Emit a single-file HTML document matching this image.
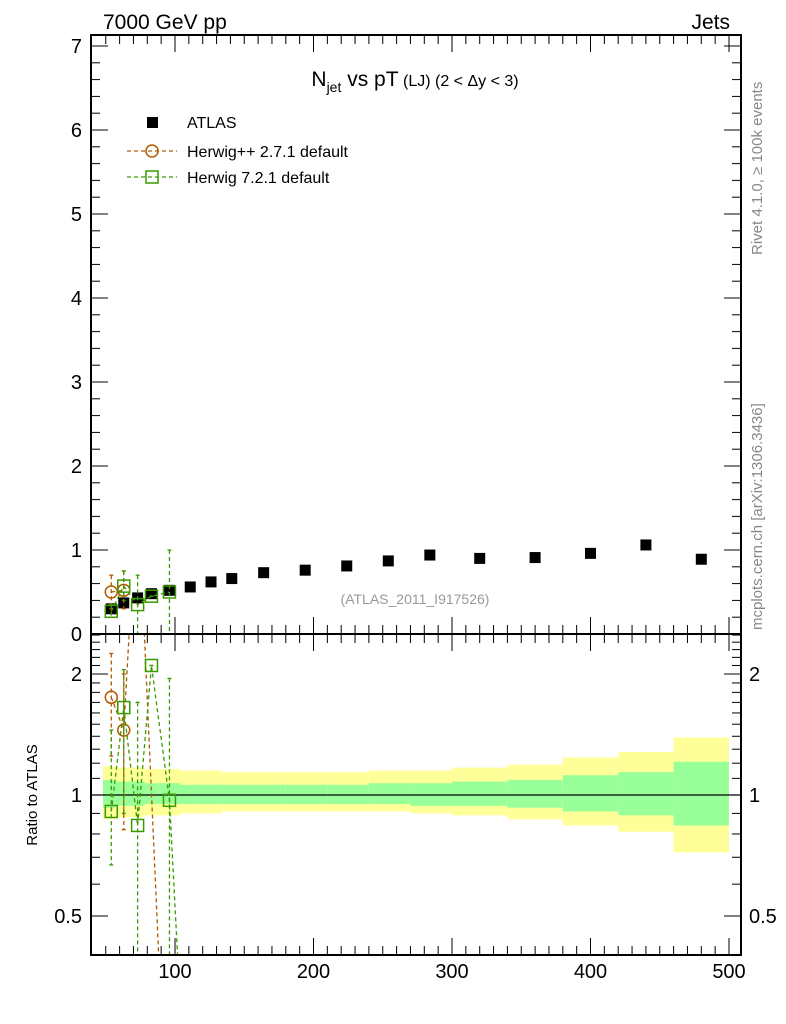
<!DOCTYPE html>
<html><head><meta charset="utf-8"><style>
html,body{margin:0;background:#fff;overflow:hidden;width:786px;height:1024px;}
svg{display:block;}
svg text{font-family:"Liberation Sans",sans-serif;}
</style></head><body>
<svg id="chart" width="786" height="1024" xmlns="http://www.w3.org/2000/svg">
<defs>
<clipPath id="cm"><rect x="91" y="35" width="650" height="599"/></clipPath>
<clipPath id="cr"><rect x="91" y="634" width="650" height="321"/></clipPath>
</defs>
<g id="bands" clip-path="url(#cr)"></g>
<g id="marks"></g>
<g id="axes"></g>
<text x="103" y="29" font-size="21">7000 GeV pp</text>
<text x="730" y="29" font-size="21" text-anchor="end">Jets</text>
<text x="415" y="86" font-size="21" text-anchor="middle">N<tspan font-size="14" dy="6">jet</tspan><tspan dy="-6"> vs pT</tspan><tspan font-size="16"> (LJ) (2 &lt; Δy &lt; 3)</tspan></text>
<text x="415" y="604" font-size="14" fill="#999" text-anchor="middle">(ATLAS_2011_I917526)</text>
<text transform="translate(762,255) rotate(-90)" font-size="15" fill="#888">Rivet 4.1.0, ≥ 100k events</text>
<text transform="translate(762,630) rotate(-90)" font-size="15" fill="#888">mcplots.cern.ch [arXiv:1306.3436]</text>
<text transform="translate(37,795) rotate(-90)" font-size="15" text-anchor="middle">Ratio to ATLAS</text>
<g>
<rect x="147" y="117" width="11" height="11" fill="#000"/>
<text x="187" y="128" font-size="16">ATLAS</text>
<line x1="127" y1="151" x2="177" y2="151" stroke="#b35900" stroke-dasharray="4,3" stroke-width="1.3"/>
<circle cx="152" cy="151" r="6" fill="none" stroke="#b35900" stroke-width="1.5"/>
<text x="187" y="157" font-size="16">Herwig++ 2.7.1 default</text>
<line x1="127" y1="177" x2="177" y2="177" stroke="#3a9a00" stroke-dasharray="4,3" stroke-width="1.3"/>
<rect x="146" y="171" width="12" height="12" fill="none" stroke="#3a9a00" stroke-width="1.5"/>
<text x="187" y="183" font-size="16">Herwig 7.2.1 default</text>
</g>
</svg>
<script>
const xs=[54,63,73,83,96,111,126,141,164,194,224,254,284,320,360,400,440,480];
const atlas=[0.30,0.37,0.43,0.48,0.52,0.56,0.62,0.66,0.73,0.76,0.81,0.87,0.94,0.90,0.91,0.96,1.06,0.89];
const binLo=[48,57,68,78,88,104,118,134,148,180,210,240,270,300,340,380,420,460];
const binHi=[57,68,78,88,104,118,134,148,180,210,240,270,300,340,380,420,460,500];
const yelUp=[1.18,1.17,1.17,1.16,1.16,1.15,1.15,1.14,1.14,1.14,1.14,1.15,1.15,1.17,1.19,1.24,1.28,1.39];
const yelDn=[0.87,0.88,0.88,0.89,0.89,0.90,0.90,0.91,0.91,0.91,0.91,0.91,0.90,0.89,0.87,0.84,0.81,0.72];
const grnUp=[1.09,1.08,1.08,1.07,1.07,1.06,1.06,1.06,1.06,1.06,1.06,1.07,1.07,1.08,1.09,1.12,1.14,1.21];
const grnDn=[0.93,0.94,0.94,0.95,0.95,0.95,0.95,0.95,0.95,0.95,0.95,0.95,0.94,0.94,0.93,0.91,0.89,0.84];
// ratio panel
const hppX=[54,63,73,96];
const hppR=[1.75,1.45,6.0,0.1];
const hppUp=[2.25,2.0,6.0,0.1];
const hppDn=[1.25,0.82,6.0,0.1];
const h7X=[54,63,73,83,96,111];
const h7R=[0.91,1.65,0.84,2.1,0.97,0.1];
const h7Up=[1.45,2.05,1.7,2.1,1.95,0.1];
const h7Dn=[0.67,0.9,0.1,2.1,0.1,0.1];
// main panel
const hppMX=[54,63];
const hppM=[0.50,0.52];
const hppMUp=[0.70,0.75];
const hppMDn=[0.30,0.30];
const h7MX=[54,63,73,83,96];
const h7M=[0.27,0.57,0.35,0.45,0.50];
const h7MUp=[0.35,0.75,0.70,0.45,1.00];
const h7MDn=[0.20,0.40,0.00,0.45,0.00];
const mainTicks=[0,1,2,3,4,5,6,7];
const xTicks=[100,200,300,400,500];
const rTicks=[0.5,1,2];

const NS="http://www.w3.org/2000/svg";
const X=v=>36.5+1.385*v;
const Y=v=>634-84*v;
const R=v=>795-121*Math.log2(v);
function mk(t,a,p){const e=document.createElementNS(NS,t);for(const k in a)e.setAttribute(k,a[k]);(p||document.getElementById('marks')).appendChild(e);return e;}
const bands=document.getElementById('bands'),marks=document.getElementById('marks'),axes=document.getElementById('axes');
const gm=mk('g',{'clip-path':'url(#cm)'},marks), gr=mk('g',{'clip-path':'url(#cr)'},marks);
for(let i=0;i<binLo.length;i++){
 const a=mk('rect',{x:X(binLo[i]),y:R(yelUp[i]),width:X(binHi[i])-X(binLo[i]),height:R(yelDn[i])-R(yelUp[i]),fill:'#ffff99'},bands);
 
 
 const b=mk('rect',{x:X(binLo[i]),y:R(grnUp[i]),width:X(binHi[i])-X(binLo[i]),height:R(grnDn[i])-R(grnUp[i]),fill:'#99ff99'},bands);
 
 
}
mk('line',{x1:91,x2:741,y1:R(1),y2:R(1),stroke:'#000','stroke-width':1.2},gr);
for(let i=0;i<xs.length;i++){
 const s=mk('rect',{x:X(xs[i])-5.5,y:Y(atlas[i])-5.5,width:11,height:11,fill:'#000'},gm);
 
 
}
function series(xa,va,up,dn,col,circ,name,F,g){
 const pts=xa.map((x,i)=>X(x)+','+F(va[i])).join(' ');
 mk('polyline',{points:pts,fill:'none',stroke:col,'stroke-dasharray':'4,3','stroke-width':1.3},g);
 for(let i=0;i<xa.length;i++){
  const x=X(xa[i]),y=F(va[i]);
  mk('line',{x1:x,x2:x,y1:F(up[i]),y2:F(dn[i]),stroke:col,'stroke-dasharray':'4,3','stroke-width':1.3},g);
  mk('line',{x1:x-2,x2:x+2,y1:F(up[i]),y2:F(up[i]),stroke:col,'stroke-width':1.3},g);
  mk('line',{x1:x-2,x2:x+2,y1:F(dn[i]),y2:F(dn[i]),stroke:col,'stroke-width':1.3},g);
  let m;
  if(circ) m=mk('circle',{cx:x,cy:y,r:6,fill:'none',stroke:col,'stroke-width':1.5},g);
  else m=mk('rect',{x:x-6,y:y-6,width:12,height:12,fill:'none',stroke:col,'stroke-width':1.5},g);
  
  
 }
}
series(hppX,hppR,hppUp,hppDn,'#b35900',true,'herwigpp-ratio-point',R,gr);
series(h7X,h7R,h7Up,h7Dn,'#3a9a00',false,'herwig7-ratio-point',R,gr);
series(hppMX,hppM,hppMUp,hppMDn,'#b35900',true,'herwigpp-point',Y,gm);
series(h7MX,h7M,h7MUp,h7MDn,'#3a9a00',false,'herwig7-point',Y,gm);
mk('rect',{x:91,y:35,width:650,height:599,fill:'none',stroke:'#000','stroke-width':2},axes);
mk('rect',{x:91,y:634,width:650,height:321,fill:'none',stroke:'#000','stroke-width':2},axes);
for(const t of mainTicks){
 const y=Y(t);
 mk('line',{x1:91,x2:108,y1:y,y2:y,stroke:'#000'},axes);mk('line',{x1:724,x2:741,y1:y,y2:y,stroke:'#000'},axes);
 const l=mk('text',{x:82,y:y+7,'font-size':20,'text-anchor':'end'},axes);l.textContent=t;
 
 
 if(t<7)for(let k=1;k<5;k++){const yy=Y(t+k*0.2);mk('line',{x1:91,x2:100,y1:yy,y2:yy,stroke:'#000'},axes);mk('line',{x1:732,x2:741,y1:yy,y2:yy,stroke:'#000'},axes);}
}
for(let v=50;v<=500;v+=10){
 const x=X(v),big=v%100==0,h=big?17:9;
 mk('line',{x1:x,x2:x,y1:35,y2:35+h,stroke:'#000'},axes);mk('line',{x1:x,x2:x,y1:634-h,y2:634,stroke:'#000'},axes);
 mk('line',{x1:x,x2:x,y1:634,y2:634+h,stroke:'#000'},axes);mk('line',{x1:x,x2:x,y1:955-h,y2:955,stroke:'#000'},axes);
}
for(const t of xTicks){const l=mk('text',{x:X(t),y:978,'font-size':20,'text-anchor':'middle'},axes);l.textContent=t;
 
 }
for(const t of rTicks){const y=R(t);
 mk('line',{x1:91,x2:108,y1:y,y2:y,stroke:'#000'},axes);mk('line',{x1:724,x2:741,y1:y,y2:y,stroke:'#000'},axes);
 const l=mk('text',{x:82,y:y+7,'font-size':20,'text-anchor':'end'},axes);l.textContent=t;
 
 
 const r=mk('text',{x:749,y:y+7,'font-size':20},axes);r.textContent=t;
 
 }
for(const t of [0.4,0.6,0.7,0.8,0.9,1.1,1.2,1.3,1.4,1.5,1.6,1.7,1.8,1.9,2.1,2.2,2.3,2.4,2.5]){const y=R(t);if(y<634||y>955)continue;
 mk('line',{x1:91,x2:100,y1:y,y2:y,stroke:'#000'},axes);mk('line',{x1:732,x2:741,y1:y,y2:y,stroke:'#000'},axes);}
</script>
</body></html>
